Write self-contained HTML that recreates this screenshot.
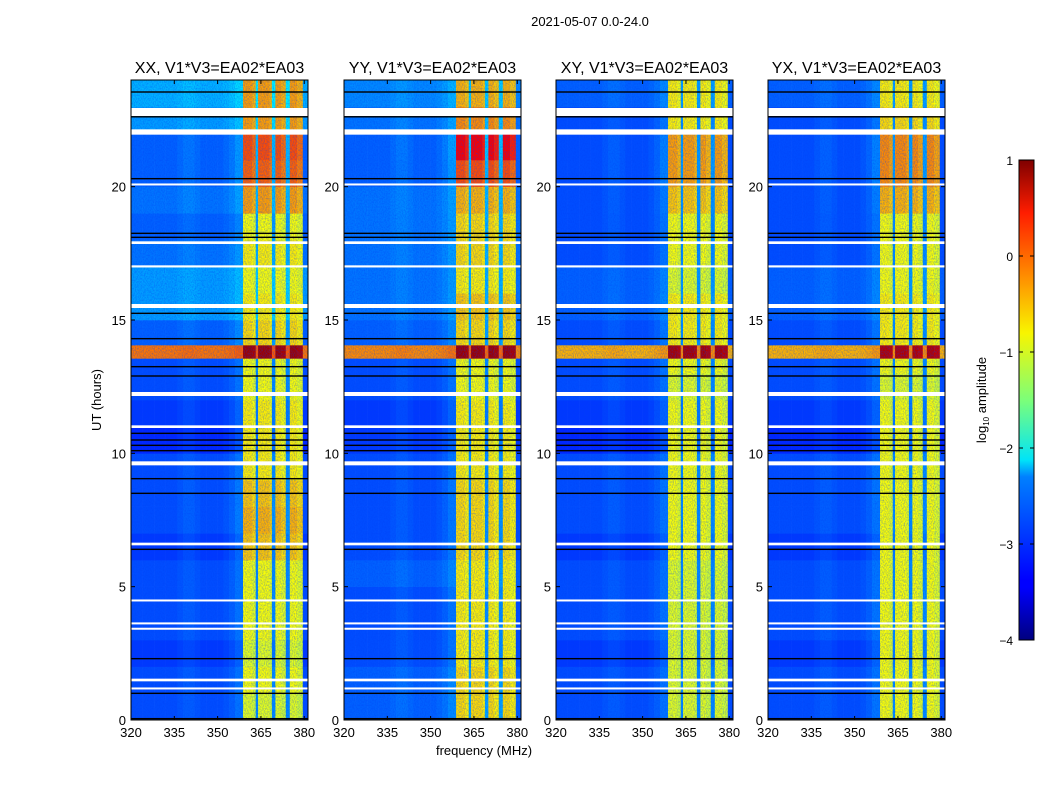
<!DOCTYPE html>
<html><head><meta charset="utf-8"><style>
body{margin:0;background:#fff;}
svg{display:block;font-family:"Liberation Sans",sans-serif;}
</style></head><body>
<svg id="fig" width="1050" height="800" viewBox="0 0 1050 800">
<defs>
<filter id="noise" x="0" y="0" width="100%" height="100%">
<feTurbulence type="fractalNoise" baseFrequency="0.9 0.6" numOctaves="2" seed="3"/>
<feColorMatrix type="matrix" values="0 0 0 0 0  0 0 0 0 0.05  0 0 0 0 0.9  0 0 0 1.4 -0.5"/>
</filter>
<linearGradient id="jetgrad" x1="0" y1="1" x2="0" y2="0">
<stop offset="0" stop-color="#00007f"/><stop offset="0.11" stop-color="#0000ff"/><stop offset="0.125" stop-color="#0000ff"/>
<stop offset="0.34" stop-color="#0080ff"/><stop offset="0.375" stop-color="#00e4f8"/><stop offset="0.5" stop-color="#7cff79"/>
<stop offset="0.64" stop-color="#f8f500"/><stop offset="0.75" stop-color="#ff9400"/><stop offset="0.89" stop-color="#ff1d00"/>
<stop offset="1" stop-color="#7f0000"/></linearGradient>
</defs>
<text x="590" y="26" font-size="13" text-anchor="middle">2021-05-07 0.0-24.0</text>
<g id="panels"></g>
<g id="cbar">
<rect x="1019" y="160" width="15" height="480" fill="url(#jetgrad)" stroke="#000" stroke-width="1"/>
</g>
<text transform="translate(986,400) rotate(-90)" font-size="13" text-anchor="middle">log<tspan font-size="8" dy="3">10</tspan><tspan dy="-3"> amplitude</tspan></text>
<text x="484" y="755" font-size="13" text-anchor="middle">frequency (MHz)</text>
<text transform="translate(101,400) rotate(-90)" font-size="13" text-anchor="middle">UT (hours)</text>
</svg>
<script>
const NS="http://www.w3.org/2000/svg";
const panelNames=["XX","YY","XY","YX"];
const panelLeft=[131,344,556,768];
const freqCols=[320,322,324,326,328,330,332,334,336,338,340,342,344,346,348,350,352,354,356,358.8,360,362,363.2,364,366,368,368.8,370,372,373.6,375,377.5,379.5];
const freqShape=[0,0,0,0,0,0,0,0,0.02,0.04,0.04,0.02,0,0,0,0,0.02,0.05,0.1,1,1,0.95,0.15,1,1,0.95,0.15,1,0.95,0.15,1,0.95,0];
const hours=[0,1,2,3,4,5,6,7,8,9,10,11,12,13,14,15,16,17,18,19,20,21,22,23,24];
const bandXX=[-1.0,-0.9,-1.0,-0.9,-0.9,-0.9,-0.6,-0.5,-0.6,-0.8,-0.8,-0.8,-0.9,-0.9,-0.7,-0.8,-0.9,-0.8,-0.9,-0.4,-0.1,0.0,-0.4,-0.4];
const bgXX=[-3.0,-3.0,-3.1,-3.0,-3.0,-3.0,-3.1,-3.0,-3.0,-3.0,-3.2,-3.1,-3.0,-3.0,-2.9,-2.6,-2.6,-2.8,-2.9,-2.8,-2.9,-2.9,-2.6,-2.5];
const bandYY=[-0.7,-0.7,-0.8,-0.8,-0.8,-0.8,-0.7,-0.7,-0.7,-0.8,-0.8,-0.8,-0.9,-0.9,-0.7,-0.6,-0.8,-0.7,-0.7,-0.5,0.0,0.4,-0.3,-0.5];
const bgYY=[-2.9,-2.9,-3.0,-3.0,-3.0,-2.9,-3.0,-3.0,-3.0,-3.0,-3.1,-3.1,-3.0,-3.0,-2.9,-2.8,-2.8,-2.8,-2.8,-2.8,-2.9,-2.9,-2.8,-2.7];
const bandXY=[-1.0,-1.0,-1.0,-1.0,-1.0,-1.0,-0.9,-0.9,-0.9,-0.9,-0.9,-0.9,-1.0,-0.9,-0.8,-0.8,-1.0,-0.9,-0.9,-0.6,-0.4,-0.4,-0.8,-0.8];
const bgXY=[-3.0,-3.0,-3.1,-3.0,-3.0,-3.0,-3.1,-3.0,-3.0,-3.0,-3.2,-3.1,-3.0,-3.0,-3.0,-2.9,-2.9,-3.0,-3.0,-3.0,-3.0,-3.0,-3.0,-2.9];
const bandYX=[-0.9,-0.9,-0.9,-0.9,-0.9,-0.9,-0.9,-0.9,-0.9,-0.9,-0.9,-0.9,-1.0,-0.9,-0.8,-0.8,-0.9,-0.9,-0.9,-0.5,-0.3,-0.3,-0.7,-0.8];
const bgYX=[-3.0,-3.0,-3.1,-3.0,-3.0,-3.0,-3.1,-3.0,-3.0,-3.0,-3.2,-3.1,-3.0,-3.0,-3.0,-2.9,-2.9,-3.0,-3.0,-3.0,-3.0,-3.0,-3.0,-2.9];
const burstStart=13.55, burstEnd=14.05;
const burstBand=[0.85,0.85,0.8,0.75];
const burstBg=[-0.2,-0.3,-0.5,-0.5];
const whiteFlags=[[22.65,22.95],[21.95,22.15],[20.05,20.12],[17.85,17.95],[16.97,17.05],[15.45,15.6],[12.15,12.3],[10.95,11.05],[9.55,9.7],[6.55,6.65],[4.45,4.52],[3.6,3.66],[3.4,3.46],[1.45,1.55],[1.15,1.22]];
const blackLines=[23.55,22.62,20.3,18.25,18.1,15.25,14.3,13.25,12.9,10.75,10.5,10.3,10.1,9.05,8.5,6.4,2.3,1.0,0.05];
const xTicks=[320,335,350,365,380];
const yTicks=[0,5,10,15,20];
const bands=[bandXX,bandYY,bandXY,bandYX], bgs=[bgXX,bgYY,bgXY,bgYX];

const W=177, plotTop=80, plotBottom=720, fmin=320, fmax=381.3, tmax=24;
function jet(v){let t=(v+4)/5;t=Math.max(0,Math.min(1,t));
 const r=Math.max(0,Math.min(1,1.5-Math.abs(4*t-3))),g=Math.max(0,Math.min(1,1.5-Math.abs(4*t-2))),b=Math.max(0,Math.min(1,1.5-Math.abs(4*t-1)));
 return `rgb(${Math.round(r*255)},${Math.round(g*255)},${Math.round(b*255)})`;}
function mk(tag,attrs,parent){const e=document.createElementNS(NS,tag);for(const k in attrs)e.setAttribute(k,attrs[k]);parent.appendChild(e);return e;}
const root=document.getElementById('panels');
panelNames.forEach((nm,p)=>{
 const L=panelLeft[p];
 const xs=f=>L+(f-fmin)/(fmax-fmin)*W;
 const ys=h=>plotBottom-h/tmax*(plotBottom-plotTop);
 const g=mk('g',{},root);
 
 
 for(let r=0;r<24;r++){
  for(let c=0;c<freqCols.length;c++){
   const f0=freqCols[c], f1=c+1<freqCols.length?freqCols[c+1]:fmax;
   const v=bgs[p][r]+freqShape[c]*(bands[p][r]-bgs[p][r]);
   const cell=mk('rect',{x:xs(f0),y:ys(hours[r+1]),width:xs(f1)-xs(f0)+0.3,height:ys(hours[r])-ys(hours[r+1])+0.3,fill:jet(v)},g);
   
   
  }
 }
 for(let c=0;c<freqCols.length;c++){
  const f0=freqCols[c], f1=c+1<freqCols.length?freqCols[c+1]:fmax;
  const v=burstBg[p]+freqShape[c]*(burstBand[p]-burstBg[p]);
  const b=mk('rect',{x:xs(f0),y:ys(burstEnd),width:xs(f1)-xs(f0)+0.3,height:ys(burstStart)-ys(burstEnd),fill:jet(v)},g);
  
  
 }
 mk('rect',{x:L,y:plotTop,width:W,height:plotBottom-plotTop,filter:'url(#noise)',opacity:0.6},g);
 whiteFlags.forEach(w=>{const e=mk('rect',{x:L,y:ys(w[1]),width:W,height:Math.max(2,ys(w[0])-ys(w[1])),fill:'#fff'},g);
  
  });
 blackLines.forEach(h=>{const e=mk('rect',{x:L,y:ys(h)-0.7,width:W,height:1.4,fill:'#000'},g);
  
  });
 mk('rect',{x:L,y:plotTop,width:W,height:plotBottom-plotTop,fill:'none',stroke:'#000','stroke-width':1},g);
 const t=mk('text',{x:L+W/2,y:plotTop-7,'font-size':16,'text-anchor':'middle'},g);
 t.textContent=nm+', V1*V3=EA02*EA03';
 
 
 xTicks.forEach(f=>{const x=xs(f);
  mk('line',{x1:x,x2:x,y1:plotBottom,y2:plotBottom-4,stroke:'#000'},g);
  mk('line',{x1:x,x2:x,y1:plotTop,y2:plotTop+4,stroke:'#000'},g);
  const l=mk('text',{x:x,y:plotBottom+17,'font-size':13,'text-anchor':'middle'},g);l.textContent=f;
  
  });
 yTicks.forEach(h=>{const y=ys(h);
  mk('line',{x1:L,x2:L+4,y1:y,y2:y,stroke:'#000'},g);
  mk('line',{x1:L+W,x2:L+W-4,y1:y,y2:y,stroke:'#000'},g);
  const l=mk('text',{x:L-5,y:y+5,'font-size':13,'text-anchor':'end'},g);l.textContent=h;
  
  });
});
const cb=document.getElementById('cbar');
[1,0,-1,-2,-3,-4].forEach(v=>{const y=160+(1-v)/5*480;
 mk('line',{x1:1019,x2:1023,y1:y,y2:y,stroke:'#000'},cb);
 mk('line',{x1:1030,x2:1034,y1:y,y2:y,stroke:'#000'},cb);
 const l=mk('text',{x:1013,y:y+5,'font-size':12,'text-anchor':'end'},cb);l.textContent=v<0?'\u2212'+(-v):v;
 
 });
</script>
</body></html>
